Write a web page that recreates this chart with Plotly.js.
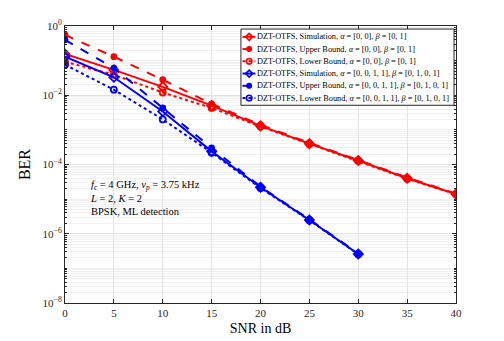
<!DOCTYPE html>
<html>
<head>
<meta charset="utf-8">
<script src="https://cdn.plot.ly/plotly-3.0.1.min.js"></script>
<style>html,body{margin:0;padding:0;background:#fff}#plot{width:504px;height:341px}</style>
</head>
<body>
<div id="plot"></div>
<script>
/* BER vs SNR — DZT-OTFS, simulation and bounds for two channel profiles */
var snrA = [0, 5, 10, 15, 20, 25, 30, 35, 40];
var simA = [0.155, 0.054, 0.0175, 0.005, 1.3e-3, 4.0e-4, 1.3e-4, 4.0e-5, 1.4e-5];
var upA  = [0.55, 0.13, 0.028, 0.0056, 1.4e-3, 4.2e-4, 1.35e-4, 4.2e-5, 1.45e-5];
var loA  = [0.093, 0.039, 0.012, 0.0043, 1.25e-3, 3.9e-4, 1.28e-4, 3.9e-5, 1.38e-5];

var snrB = [0, 5, 10, 15, 20, 25, 30];
var simB = [0.13, 0.033, 0.0034, 2.4e-4, 2.2e-5, 2.5e-6, 2.6e-7];
var upB  = [0.40, 0.061, 0.0043, 3.0e-4, 2.3e-5, 2.6e-6, 2.7e-7];
var loB  = [0.076, 0.0145, 0.002, 2.2e-4, 2.1e-5, 2.45e-6, 2.55e-7];

var yTickVals = [1, 1e-2, 1e-4, 1e-6, 1e-8];
var yTickText = ['10<sup>0</sup>', '10<sup>−2</sup>', '10<sup>−4</sup>', '10<sup>−6</sup>', '10<sup>−8</sup>'];

var RED = '#ff0000', BLUE = '#0000ff';
var SERIF = "'Liberation Serif', 'DejaVu Serif', serif";
var labA = ', <i>α</i> = [0, 0], <i>β</i> = [0, 1]';
var labB = ', <i>α</i> = [0, 0, 1, 1], <i>β</i> = [0, 1, 0, 1]';

function tr(x, y, color, dash, sym, size, name) {
  return {
    x: x, y: y, type: 'scatter', mode: 'lines+markers', name: name,
    line: { color: color, width: 2, dash: dash },
    marker: { symbol: sym, size: size, color: color, line: { color: color, width: 1.8 } }
  };
}

var data = [
  tr(snrA, simA, RED, 'solid', 'diamond-open', 7, 'DZT-OTFS, Simulation' + labA),
  tr(snrA, upA, RED, 'dash', 'circle', 5, 'DZT-OTFS, Upper Bound' + labA),
  tr(snrA, loA, RED, 'dot', 'circle-open', 6, 'DZT-OTFS, Lower Bound' + labA),
  tr(snrB, simB, BLUE, 'solid', 'diamond-open', 7, 'DZT-OTFS, Simulation' + labB),
  tr(snrB, upB, BLUE, 'dash', 'circle', 5, 'DZT-OTFS, Upper Bound' + labB),
  tr(snrB, loB, BLUE, 'dot', 'circle-open', 6, 'DZT-OTFS, Lower Bound' + labB)
];

/* compact MATLAB-style legend (plotly's own rows are too tall) */
var LX0 = 0.450, LX1 = 0.995, LTOP = 0.989, ROW = 0.0442;
var shapes = [{
  type: 'rect', xref: 'paper', yref: 'paper', x0: LX0, x1: LX1, y0: LTOP - ROW * data.length - 0.01, y1: LTOP,
  fillcolor: '#fff', line: { color: '#262626', width: 1 }, layer: 'above'
}];
var annotations = [];
data.forEach(function (t, i) {
  var yc = LTOP - 0.006 - ROW * (i + 0.5);
  var xm = LX0 + 0.021;
  shapes.push({ type: 'line', xref: 'paper', yref: 'paper', x0: LX0 + 0.004, x1: LX0 + 0.037, y0: yc, y1: yc,
    line: { color: t.line.color, width: 2, dash: t.line.dash }, layer: 'above' });
  var s = t.marker.symbol, mk;
  if (s === 'diamond-open') {
    mk = { type: 'path', path: 'M0,-3.5 L3.5,0 L0,3.5 L-3.5,0 Z', fillcolor: 'rgba(0,0,0,0)' };
  } else {
    var r = s === 'circle' ? 2.2 : 2.8;
    mk = { type: 'circle', x0: -r, x1: r, y0: -r, y1: r, fillcolor: s === 'circle' ? t.line.color : 'rgba(0,0,0,0)' };
  }
  mk.xref = 'paper'; mk.yref = 'paper';
  mk.xsizemode = 'pixel'; mk.ysizemode = 'pixel';
  mk.xanchor = xm; mk.yanchor = yc; mk.layer = 'above';
  mk.line = { color: t.line.color, width: 1.6 };
  shapes.push(mk);
  annotations.push({ xref: 'paper', yref: 'paper', x: LX0 + 0.036, y: yc, xanchor: 'left', yanchor: 'middle',
    showarrow: false, text: t.name, font: { family: SERIF, size: 8.3, color: '#000' } });
});
annotations.push({
  xref: 'paper', yref: 'paper', x: 0.06, y: 0.455, xanchor: 'left', yanchor: 'top',
  align: 'left', showarrow: false,
  font: { family: SERIF, size: 10.5, color: '#000' },
  text: '<i>f</i><sub><i>c</i></sub> = 4 GHz, <i>ν</i><sub><i>p</i></sub> = 3.75 kHz<br><i>L</i> = 2, <i>K</i> = 2<br>BPSK, ML detection'
});

var layout = {
  width: 504, height: 341,
  margin: { l: 65, r: 48, t: 26, b: 38 },
  paper_bgcolor: '#fff', plot_bgcolor: '#fff',
  font: { family: SERIF, size: 11, color: '#262626' },
  showlegend: false,
  xaxis: {
    range: [0, 40], tick0: 0, dtick: 5,
    showgrid: true, gridcolor: '#e3e3e3', zeroline: false,
    showline: true, linecolor: '#262626', linewidth: 1, mirror: 'allticks',
    ticks: 'inside', ticklen: 4, tickcolor: '#262626',
    tickfont: { family: SERIF, size: 11 },
    title: { text: 'SNR in dB', font: { family: SERIF, size: 14, color: '#000' }, standoff: 4 }
  },
  yaxis: {
    type: 'log', range: [-8, 0],
    tickmode: 'array', tickvals: yTickVals, ticktext: yTickText,
    showgrid: true, gridcolor: '#e3e3e3', zeroline: false,
    showline: true, linecolor: '#262626', linewidth: 1, mirror: 'allticks',
    ticks: 'inside', ticklen: 4, tickcolor: '#262626',
    tickfont: { family: SERIF, size: 11 },
    minor: { dtick: 'D1', showgrid: true, gridcolor: '#f0f0f0', ticks: 'inside', ticklen: 2, tickcolor: '#262626' },
    title: { text: 'BER', font: { family: SERIF, size: 16, color: '#000' }, standoff: 8 }
  },
  shapes: shapes,
  annotations: annotations
};

Plotly.newPlot('plot', data, layout, { displayModeBar: false, staticPlot: true });
</script>
</body>
</html>
